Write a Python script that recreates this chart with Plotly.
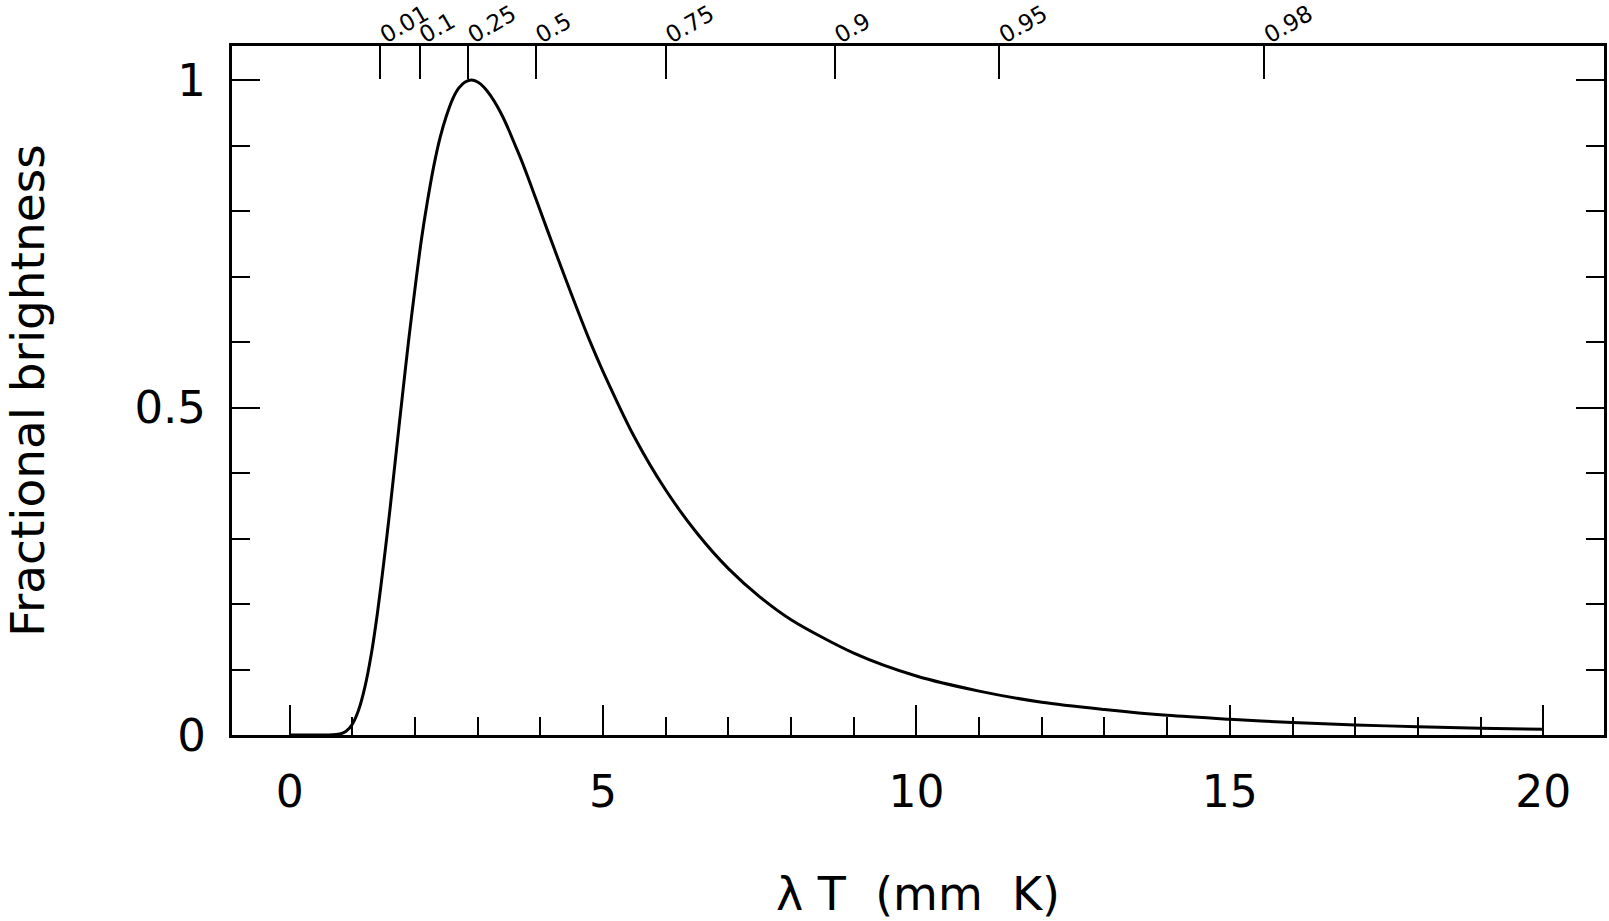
import plotly.graph_objects as go

# lambda*T (mm K) and fractional brightness
lam_T = [0, 0.4, 0.6, 0.8, 0.9, 1.0, 1.1, 1.2, 1.3, 1.4, 1.5, 1.6, 1.7, 1.8, 1.9,
         2.0, 2.1, 2.2, 2.3, 2.4, 2.5, 2.6, 2.7, 2.8, 2.9, 3.0, 3.1, 3.2, 3.3,
         3.4, 3.5, 3.6, 3.7, 3.8, 3.9, 4.0, 4.2, 4.4, 4.6, 4.8, 5.0, 5.5, 6.0,
         6.5, 7.0, 7.5, 8.0, 9.0, 10, 11, 12, 13, 14, 15, 16, 17, 18, 19, 20]
brightness = [0.0, 0.0, 0.0, 0.0014, 0.0056, 0.0165, 0.038, 0.073, 0.122, 0.186,
              0.262, 0.344, 0.432, 0.519, 0.604, 0.682, 0.755, 0.816, 0.869,
              0.912, 0.945, 0.971, 0.988, 0.997, 1.0, 0.997, 0.989, 0.977, 0.962,
              0.944, 0.923, 0.900, 0.877, 0.852, 0.826, 0.800, 0.748, 0.697,
              0.647, 0.599, 0.555, 0.455, 0.374, 0.308, 0.254, 0.211, 0.176,
              0.125, 0.090, 0.067, 0.050, 0.039, 0.030, 0.024, 0.019, 0.0154,
              0.0126, 0.0104, 0.0086]

# top axis: cumulative fraction markers
frac_pos = [1.445, 2.072, 2.844, 3.928, 6.00, 8.695, 11.32, 15.55]
frac_labels = ["0.01", "0.1", "0.25", "0.5", "0.75", "0.9", "0.95", "0.98"]

x_ticks = [0, 5, 10, 15, 20]
x_tick_labels = ["0", "5", "10", "15", "20"]
y_ticks = [0, 0.5, 1]
y_tick_labels = ["0", "0.5", "1"]

X_RANGE = [-0.92, 20.97]
Y_RANGE = [0, 1.052]

FONT = "DejaVu Sans"

fig = go.Figure()
fig.add_trace(go.Scatter(x=lam_T, y=brightness, mode="lines",
                         line=dict(color="black", width=3, shape="spline", smoothing=0.8),
                         showlegend=False, hoverinfo="skip"))
# invisible trace to activate top axis
fig.add_trace(go.Scatter(x=[X_RANGE[0]], y=[0], xaxis="x2", mode="markers",
                         marker=dict(opacity=0), showlegend=False, hoverinfo="skip"))

fig.update_layout(
    width=1609, height=921,
    margin=dict(l=232, r=5, t=46, b=186, autoexpand=False),
    paper_bgcolor="white", plot_bgcolor="white",
    font=dict(family=FONT, color="black"),
    xaxis=dict(range=X_RANGE, showgrid=False, zeroline=False, automargin=False,
               showline=True, linecolor="black", linewidth=3, mirror=True,
               ticks="inside", ticklen=30, tickwidth=2, tickcolor="black",
               tickvals=x_ticks, ticktext=x_tick_labels,
               tickfont=dict(size=44, family=FONT), ticklabelstandoff=16,
               minor=dict(tick0=0, dtick=1, ticks="inside", ticklen=18,
                          tickwidth=2, tickcolor="black"),
               title=dict(text="λ T  (mm  K)", font=dict(size=46, family=FONT),
                          standoff=73)),
    xaxis2=dict(range=X_RANGE, overlaying="x", side="top", showgrid=False,
                zeroline=False, showline=False, automargin=False,
                ticks="inside", ticklen=33, tickwidth=2, tickcolor="black",
                tickvals=frac_pos, ticktext=frac_labels, tickangle=-30,
                tickfont=dict(size=23, family=FONT), ticklabelstandoff=-5),
    yaxis=dict(range=Y_RANGE, showgrid=False, zeroline=False, automargin=False,
               showline=True, linecolor="black", linewidth=3, mirror="ticks",
               ticks="inside", ticklen=28, tickwidth=2, tickcolor="black",
               tickvals=y_ticks, ticktext=y_tick_labels,
               tickfont=dict(size=45, family=FONT), ticklabelstandoff=14,
               minor=dict(tick0=0, dtick=0.1, ticks="inside", ticklen=18,
                          tickwidth=2, tickcolor="black"),
               title=dict(text="Fractional brightness", font=dict(size=47, family=FONT),
                          standoff=84)),
)

fig.write_html("out.html")
